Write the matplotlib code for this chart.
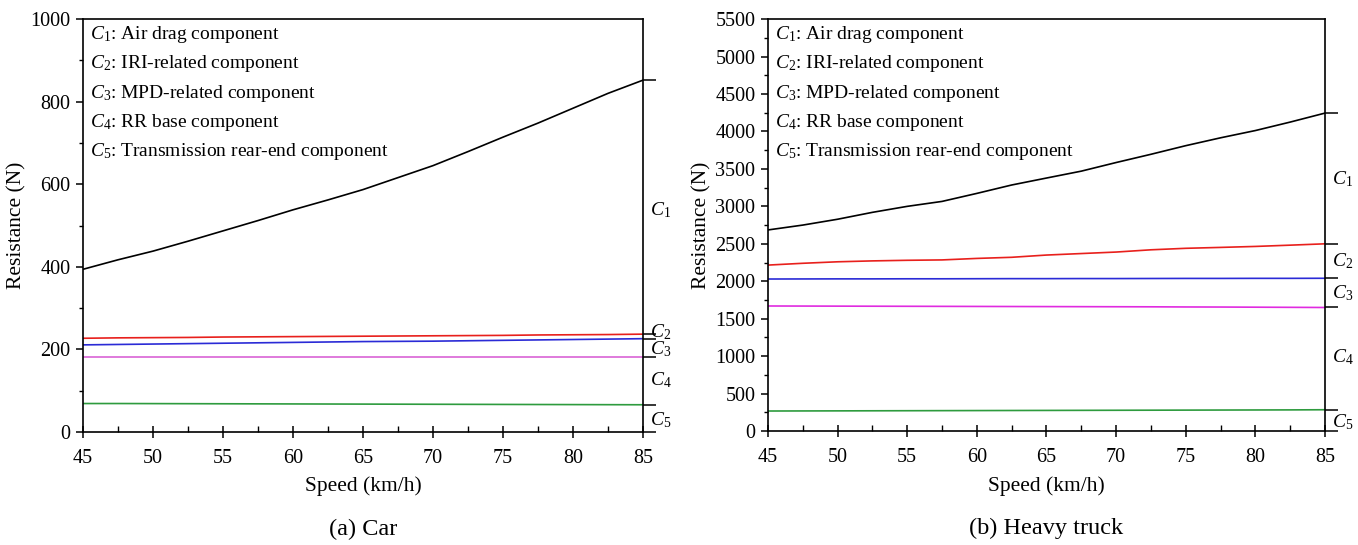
import matplotlib
matplotlib.use("Agg")
import matplotlib.pyplot as plt
from matplotlib.ticker import MultipleLocator
import matplotlib.transforms as mtransforms

plt.rcParams['font.family'] = ['Liberation Serif', 'DejaVu Serif']
plt.rcParams['mathtext.fontset'] = 'custom'
plt.rcParams['mathtext.rm'] = 'Liberation Serif'
plt.rcParams['mathtext.it'] = 'Liberation Serif:italic'

# ---------------- data ----------------
speed = [45, 47.5, 50, 52.5, 55, 57.5, 60, 62.5, 65, 67.5, 70, 72.5, 75, 77.5, 80, 82.5, 85]

car_c1 = [394, 417, 438, 462, 487, 512, 538, 562, 587, 616, 645, 679, 714, 748, 784, 820, 852]
car_c2 = [227, 228, 228.5, 229, 230, 230.5, 231, 231.5, 232, 232.5, 233, 233.5, 234, 235, 235.5, 236, 237]
car_c3 = [211, 212, 213, 214, 215, 216, 217, 218, 219, 219.5, 220, 221, 222, 223, 224, 225, 226]
car_c4 = [182, 182, 182, 182, 182, 182, 182, 182, 182, 182, 182, 182, 182, 182, 182, 182, 182]
car_c5 = [69, 69, 68.8, 68.6, 68.4, 68.2, 68, 67.8, 67.6, 67.4, 67.2, 67, 66.8, 66.6, 66.4, 66.2, 66]

truck_c1 = [2685, 2750, 2828, 2920, 3000, 3066, 3173, 3285, 3378, 3470, 3585, 3695, 3810, 3915, 4012, 4125, 4245]
truck_c2 = [2216, 2240, 2260, 2272, 2280, 2285, 2305, 2320, 2350, 2370, 2390, 2420, 2440, 2452, 2465, 2482, 2500]
truck_c3 = [2030, 2031, 2032, 2032, 2033, 2033, 2034, 2035, 2035, 2036, 2036, 2037, 2038, 2038, 2039, 2039, 2040]
truck_c4 = [1670, 1669, 1668, 1667, 1666, 1665, 1664, 1663, 1662, 1661, 1660, 1659, 1657, 1656, 1654, 1652, 1650]
truck_c5 = [268, 269, 270, 271, 272, 273, 274, 275, 276, 277, 278, 279, 280, 281, 282, 283, 285]

legend_lines = ["Air drag component", "IRI-related component", "MPD-related component",
                "RR base component", "Transmission rear-end component"]
comp_names = ["C1", "C2", "C3", "C4", "C5"]
captions = ["(a) Car", "(b) Heavy truck"]

car_colors = ['black', '#e8201c', '#2b2bd6', '#d964d6', '#2e9b3e']
truck_colors = ['black', '#e8201c', '#2b2bd6', '#e02be0', '#2e9b3e']

# label y-positions on the right side (layout)
car_label_y = [537, 241, 200, 126, 29]
truck_label_y = [3365, 2265, 1836, 992, 121]

fig = plt.figure(figsize=(13.58, 5.45), dpi=100)
ax_a = fig.add_axes([0.0611, 0.2073, 0.4124, 0.7578])
ax_b = fig.add_axes([0.5655, 0.2090, 0.4102, 0.7560])


def draw(ax, series, colors, ylim, ymaj, ymin, label_y, caption):
    for s, c in zip(series, colors):
        ax.plot(speed, s, color=c, lw=1.2)
    ax.set_xlim(45, 85)
    ax.set_ylim(*ylim)
    ax.xaxis.set_major_locator(MultipleLocator(5))
    ax.xaxis.set_minor_locator(MultipleLocator(2.5))
    ax.yaxis.set_major_locator(MultipleLocator(ymaj))
    ax.yaxis.set_minor_locator(MultipleLocator(ymin))
    ax.tick_params(axis='x', which='major', direction='inout', length=9, width=1.1,
                   labelsize=14.5, pad=8)
    ax.tick_params(axis='x', which='minor', direction='in', length=4, width=1.0)
    ax.tick_params(axis='y', which='major', direction='out', length=5, width=1.1,
                   labelsize=14.5, pad=4)
    ax.tick_params(axis='y', which='minor', direction='out', length=3, width=1.0)
    for sp in ax.spines.values():
        sp.set_linewidth(1.2)
    ax.set_xlabel("Speed (km/h)", fontsize=15.5, labelpad=6)
    ax.set_ylabel("Resistance (N)", fontsize=15.5, labelpad=3)

    # right-side ticks at end values
    axr = ax.twinx()
    axr.set_ylim(*ylim)
    ends = [0] + [s[-1] for s in series]
    axr.set_yticks(ends)
    axr.set_yticklabels([])
    axr.tick_params(axis='y', direction='out', length=9, width=1.1)
    axr.yaxis.set_minor_locator(plt.NullLocator())
    for sp in axr.spines.values():
        sp.set_visible(False)

    # component labels on right
    trans = mtransforms.blended_transform_factory(ax.transAxes, ax.transData)
    for n, y in zip(comp_names, label_y):
        ax.text(1.012, y, "$C_{%s}$" % n[1], transform=trans, fontsize=14,
                ha='left', va='center')

    # legend text
    for i, (n, t) in enumerate(zip(comp_names, legend_lines)):
        ax.text(0.012, 0.962 - i * 0.0708, "$C_{%s}$: %s" % (n[1], t),
                transform=ax.transAxes, fontsize=14, ha='left', va='center')

    ax.text(0.5, -0.235, caption, transform=ax.transAxes, fontsize=17.5,
            ha='center', va='center')


draw(ax_a, [car_c1, car_c2, car_c3, car_c4, car_c5], car_colors, (0, 1000), 200, 100,
     car_label_y, captions[0])
draw(ax_b, [truck_c1, truck_c2, truck_c3, truck_c4, truck_c5], truck_colors, (0, 5500), 500, 250,
     truck_label_y, captions[1])

fig.savefig("out.png", dpi=100)
